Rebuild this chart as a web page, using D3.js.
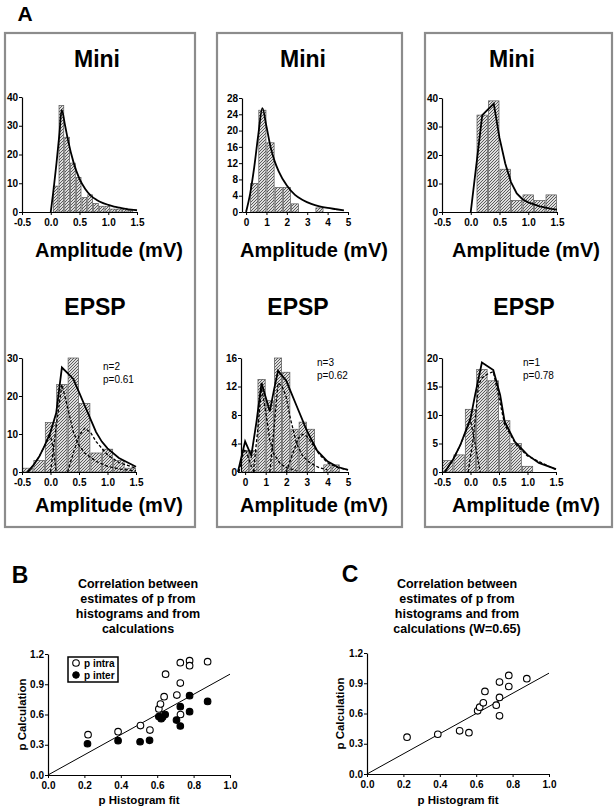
<!DOCTYPE html>
<html><head><meta charset="utf-8">
<script src="https://cdn.jsdelivr.net/npm/d3@7"></script>
<style>body{margin:0;background:#fff}svg{display:block}</style>
</head><body>
<svg id="c" width="616" height="810"></svg>
<script>
// ---------- Panel A data ----------
const ampTicksA = [-0.5, 0, 0.5, 1, 1.5];
const ampTicksB = [0, 1, 2, 3, 4, 5];

// Mini 1
const mini1Centers = [0.085, 0.185, 0.285, 0.385, 0.485, 0.585, 0.685, 0.785, 0.885, 0.985, 1.085, 1.185, 1.285, 1.385];
const mini1Counts  = [9, 37, 26, 17, 12, 5, 6, 3, 2, 2, 1, 1, 1.3, 0.5];
const mini1FitX = [0, 0.05, 0.1, 0.15, 0.19, 0.25, 0.3, 0.4, 0.5, 0.6, 0.7, 0.8, 0.9, 1.0, 1.1, 1.2, 1.3, 1.4, 1.5];
const mini1FitY = [0, 8, 17, 27, 35.5, 30, 25, 17, 11.5, 8, 5.6, 4.2, 3.2, 2.5, 1.9, 1.5, 1.1, 0.8, 0.6];
const mini1YTicks = [0, 10, 20, 30, 40];

// Mini 2
const mini2Centers = [0.4, 0.8, 1.2, 1.6, 2.0, 2.4, 2.8, 3.2, 3.6];
const mini2Counts  = [7, 25, 17, 6, 6, 2, 0, 0, 1];
const mini2FitX = [0, 0.2, 0.4, 0.6, 0.8, 1.0, 1.2, 1.4, 1.6, 2.0, 2.4, 2.8, 3.2, 3.6, 4.0, 4.4, 4.8];
const mini2FitY = [0, 4.5, 11, 19, 25.5, 21, 16, 12.5, 10, 6.5, 4.2, 2.9, 2.0, 1.4, 1.0, 0.7, 0.4];
const mini2YTicks = [0, 4, 8, 12, 16, 20, 24, 28];

// Mini 3
const mini3Centers = [0.2, 0.4, 0.6, 0.8, 1.0, 1.2, 1.4];
const mini3Counts  = [34, 39, 15, 4, 6, 4, 6];
const mini3FitX = [0, 0.2, 0.4, 0.5, 0.6, 0.7, 0.8, 0.9, 1.0, 1.2, 1.4, 1.5];
const mini3FitY = [0, 34, 38, 26, 17, 10.5, 6.5, 4.5, 3.4, 2.0, 1.1, 0.8];
const mini3YTicks = [0, 10, 20, 30, 40];

// EPSP 1 (n=2, p=0.61)
const epsp1Centers = [-0.4, -0.2, 0, 0.2, 0.4, 0.6, 0.8, 1.0, 1.2, 1.4];
const epsp1Counts  = [1, 3, 13, 23, 30, 18, 5, 6, 3, 1];
const epsp1FitX = [-0.4, -0.3, -0.2, -0.1, 0.0, 0.1, 0.2, 0.3, 0.4, 0.5, 0.6, 0.7, 0.8, 0.9, 1.0, 1.2, 1.5];
const epsp1FitY = [0, 1.8, 4, 7, 10.5, 15.5, 27.5, 26, 24.5, 21, 17.5, 14, 10.5, 8, 6.2, 3.7, 1.4];
const epsp1C0X = [-0.4, -0.3, -0.2, -0.1, -0.05, 0.0, 0.05, 0.1];
const epsp1C0Y = [0, 1.8, 4, 7, 8.5, 9.5, 6, 0];
const epsp1C1X = [0.0, 0.1, 0.2, 0.3, 0.4, 0.5, 0.6, 0.8, 1.0, 1.2, 1.5];
const epsp1C1Y = [0, 12, 23, 17, 10.5, 7, 5, 2.8, 1.5, 0.8, 0.3];
const epsp1C2X = [0.3, 0.4, 0.5, 0.6, 0.7, 0.8, 1.0, 1.2, 1.5];
const epsp1C2Y = [0, 5, 9.5, 11.5, 10.5, 8, 4.5, 2.5, 1];
const epsp1YTicks = [0, 10, 20, 30];

// EPSP 2 (n=3, p=0.62)
const epsp2Centers = [0, 0.4, 0.8, 1.2, 1.6, 2.0, 2.4, 2.8, 3.2, 3.6, 4.0, 4.4];
const epsp2Counts  = [3, 3, 13, 10, 16, 14, 6, 7, 6, 0, 1, 1];
const epsp2FitX = [-0.35, 0, 0.3, 0.55, 0.8, 1.0, 1.2, 1.4, 1.6, 2.0, 2.5, 3.0, 3.5, 4.0, 4.5, 5.0];
const epsp2FitY = [0, 4.3, 2.3, 7, 12.5, 10.5, 8.5, 11.5, 14.2, 12.8, 9.3, 5.8, 3.0, 1.5, 0.7, 0.3];
const epsp2C0X = [-0.3, -0.1, 0, 0.1, 0.3, 0.5];
const epsp2C0Y = [0, 2.5, 3.2, 2.5, 0.8, 0];
const epsp2C1X = [0.4, 0.6, 0.8, 1.0, 1.2, 1.4, 1.7, 2.0, 2.5];
const epsp2C1Y = [0, 5.5, 11.8, 8.5, 4.5, 2.5, 1.2, 0.6, 0.2];
const epsp2C2X = [1.2, 1.4, 1.6, 1.8, 2.0, 2.2, 2.5, 2.8, 3.2, 3.6, 4.0];
const epsp2C2Y = [0, 6, 12.5, 12, 10.5, 7.5, 4, 2.2, 1.2, 0.6, 0.3];
const epsp2C3X = [2.0, 2.3, 2.6, 2.8, 3.0, 3.3, 3.6, 4.0, 4.5, 5.0];
const epsp2C3Y = [0, 2.5, 4.8, 5.3, 5.0, 3.8, 2.5, 1.3, 0.6, 0.3];
const epsp2YTicks = [0, 4, 8, 12, 16];

// EPSP 3 (n=1, p=0.78)
const epsp3Centers = [-0.4, -0.2, 0, 0.2, 0.4, 0.6, 0.8, 1.0];
const epsp3Counts  = [2, 3, 11, 18, 16, 9, 5, 1];
const epsp3FitX = [-0.45, -0.3, -0.18, 0.0, 0.08, 0.2, 0.4, 0.52, 0.6, 0.78, 1.0, 1.2, 1.5];
const epsp3FitY = [0, 2.3, 4.7, 9.4, 13.5, 19.2, 17.9, 13.5, 8.8, 5.3, 3.0, 1.6, 0.5];
const epsp3C0X = [-0.45, -0.3, -0.18, 0.0, 0.08, 0.17];
const epsp3C0Y = [0, 2.3, 4.7, 9.1, 5, 0];
const epsp3C1X = [-0.04, 0.05, 0.1, 0.14, 0.2, 0.3, 0.4, 0.5, 0.6, 0.8, 1.0, 1.5];
const epsp3C1Y = [0, 6, 11, 15.3, 16.5, 17.2, 17.6, 13, 8.3, 4.8, 2.8, 0.4];
const epsp3YTicks = [0, 5, 10, 15, 20];

// ---------- Panel B / C data ----------
const bIntraX = [0.22, 0.385, 0.508, 0.56, 0.609, 0.618, 0.638, 0.646, 0.708, 0.727, 0.727, 0.728, 0.778, 0.778, 0.877];
const bIntraY = [0.40, 0.43, 0.49, 0.446, 0.655, 0.704, 0.777, 1.0, 0.793, 0.912, 1.114, 0.60, 1.134, 1.084, 1.124];
const bInterX = [0.217, 0.385, 0.506, 0.558, 0.609, 0.622, 0.644, 0.706, 0.727, 0.727, 0.778, 0.778, 0.877, 0.63];
const bInterY = [0.31, 0.34, 0.33, 0.344, 0.579, 0.559, 0.60, 0.545, 0.678, 0.486, 0.787, 0.628, 0.73, 0.575];
const cX = [0.22, 0.389, 0.509, 0.56, 0.608, 0.619, 0.639, 0.648, 0.71, 0.728, 0.728, 0.728, 0.779, 0.779, 0.878];
const cY = [0.365, 0.394, 0.428, 0.41, 0.627, 0.663, 0.706, 0.819, 0.683, 0.912, 0.759, 0.577, 0.978, 0.868, 0.945];
const pTicksX = [0, 0.2, 0.4, 0.6, 0.8, 1.0];
const pTicksY = [0, 0.3, 0.6, 0.9, 1.2];
const identityLine = [0, 1];

// ---------- drawing ----------
const FONT = "'Liberation Sans', Arial, Helvetica, sans-serif";
const svg = d3.select("#c");
const defs = svg.append("defs");
const pat = defs.append("pattern").attr("id", "hatch").attr("patternUnits", "userSpaceOnUse")
  .attr("width", 3).attr("height", 3);
pat.append("rect").attr("width", 3).attr("height", 3).attr("fill", "#dedede");
pat.append("path").attr("d", "M-0.75,0.75 l1.5,-1.5 M0,3 l3,-3 M2.25,3.75 l1.5,-1.5")
  .attr("stroke", "#444").attr("stroke-width", 0.85);

function txt(x, y, s, size, opts = {}) {
  return svg.append("text").attr("x", x).attr("y", y).text(s)
    .attr("font-family", FONT).attr("font-size", size)
    .attr("font-weight", opts.weight || "bold")
    .attr("text-anchor", opts.anchor || "middle").attr("fill", "#000");
}

function styleAxis(sel) {
  sel.selectAll("text").attr("font-family", FONT).attr("font-size", 10).attr("font-weight", "bold").attr("fill", "#000");
  sel.selectAll("line").attr("stroke", "#000").attr("stroke-width", 1);
  sel.select(".domain").attr("stroke", "#000").attr("stroke-width", 1.2);
}

function hist(cfg) {
  const x = d3.scaleLinear().domain(cfg.xDom).range(cfg.xRange);
  const y = d3.scaleLinear().domain(cfg.yDom).range(cfg.yRange);
  const g = svg.append("g");
  const bars = d3.zip(cfg.centers, cfg.counts).filter(d => d[1] > 0);
  g.selectAll("rect").data(bars).join("rect")
    .attr("x", d => x(d[0] - cfg.bw / 2) + 0.5)
    .attr("width", d => x(d[0] + cfg.bw / 2) - x(d[0] - cfg.bw / 2) - 1)
    .attr("y", d => y(d[1]))
    .attr("height", d => y(0) - y(d[1]))
    .attr("fill", "url(#hatch)").attr("stroke", "#555").attr("stroke-width", 0.7);
  const line = d3.line().x(d => x(d[0])).y(d => y(d[1])).curve(cfg.curve || d3.curveMonotoneX);
  (cfg.comps || []).forEach(c => {
    g.append("path").attr("d", line(d3.zip(c[0], c[1]))).attr("fill", "none")
      .attr("stroke", "#000").attr("stroke-width", 1.3).attr("stroke-dasharray", "3,2");
  });
  g.append("path").attr("d", line(d3.zip(cfg.fitX, cfg.fitY))).attr("fill", "none")
    .attr("stroke", "#000").attr("stroke-width", 1.8);
  const ya = g.append("g").attr("transform", `translate(${cfg.xRange[0]},0)`)
    .call(d3.axisLeft(y).tickValues(cfg.yTicks).tickSize(3).tickSizeOuter(0).tickPadding(1));
  styleAxis(ya);
  const xa = g.append("g").attr("transform", `translate(0,${y(0)})`)
    .call(d3.axisBottom(x).tickValues(cfg.xTicks).tickSize(3).tickSizeOuter(0).tickPadding(4)
      .tickFormat(cfg.xFmt));
  styleAxis(xa);
  if (cfg.note) {
    txt(cfg.noteX, cfg.noteY, cfg.note[0], 10, {weight: "normal", anchor: "start"});
    txt(cfg.noteX, cfg.noteY + 13, cfg.note[1], 10, {weight: "normal", anchor: "start"});
  }
}

// Boxes
[[5, 195], [217, 402], [425, 612]].forEach(b => {
  svg.append("rect").attr("x", b[0]).attr("y", 33).attr("width", b[1] - b[0]).attr("height", 494)
    .attr("fill", "none").attr("stroke", "#8c8c8c").attr("stroke-width", 2.2);
});

txt(25, 21, "A", 21, {});

// Titles
[97, 303, 512].forEach(cx => txt(cx, 67, "Mini", 23));
[109, 314, 526].forEach(cx => txt(cx, 257, "Amplitude (mV)", 20));
[95, 298, 524].forEach(cx => txt(cx, 315, "EPSP", 23));
[109, 314, 526].forEach(cx => txt(cx, 512, "Amplitude (mV)", 20));

const fmt1 = d => d.toFixed(1);
const fmt0 = d => d.toFixed(0);

hist({xDom: [-0.5, 1.5], xRange: [22, 137], yDom: [0, 40], yRange: [212, 97], bw: 0.1,
  centers: mini1Centers, counts: mini1Counts, fitX: mini1FitX, fitY: mini1FitY,
  yTicks: mini1YTicks, xTicks: ampTicksA, xFmt: fmt1});
hist({xDom: [-0.2, 5], xRange: [242, 348], yDom: [0, 28], yRange: [212, 98], bw: 0.4,
  centers: mini2Centers, counts: mini2Counts, fitX: mini2FitX, fitY: mini2FitY,
  yTicks: mini2YTicks, xTicks: ampTicksB, xFmt: fmt0});
hist({xDom: [-0.5, 1.5], xRange: [442, 557], yDom: [0, 40], yRange: [212, 98], bw: 0.2,
  centers: mini3Centers, counts: mini3Counts, fitX: mini3FitX, fitY: mini3FitY,
  yTicks: mini3YTicks, xTicks: ampTicksA, xFmt: fmt1, curve: d3.curveLinear});

hist({xDom: [-0.5, 1.5], xRange: [22, 136], yDom: [0, 30], yRange: [472, 358], bw: 0.2,
  centers: epsp1Centers, counts: epsp1Counts, fitX: epsp1FitX, fitY: epsp1FitY,
  comps: [[epsp1C0X, epsp1C0Y], [epsp1C1X, epsp1C1Y], [epsp1C2X, epsp1C2Y]],
  yTicks: epsp1YTicks, xTicks: ampTicksA, xFmt: fmt1, curve: d3.curveLinear,
  note: ["n=2", "p=0.61"], noteX: 103, noteY: 370});
hist({xDom: [-0.2, 5], xRange: [241, 348], yDom: [0, 16], yRange: [472, 358], bw: 0.4,
  centers: epsp2Centers, counts: epsp2Counts, fitX: epsp2FitX, fitY: epsp2FitY,
  comps: [[epsp2C0X, epsp2C0Y], [epsp2C1X, epsp2C1Y], [epsp2C2X, epsp2C2Y], [epsp2C3X, epsp2C3Y]],
  yTicks: epsp2YTicks, xTicks: ampTicksB, xFmt: fmt0, curve: d3.curveLinear,
  note: ["n=3", "p=0.62"], noteX: 317, noteY: 366});
hist({xDom: [-0.5, 1.5], xRange: [442, 556], yDom: [0, 20], yRange: [472, 358], bw: 0.2,
  centers: epsp3Centers, counts: epsp3Counts, fitX: epsp3FitX, fitY: epsp3FitY,
  comps: [[epsp3C0X, epsp3C0Y], [epsp3C1X, epsp3C1Y]],
  yTicks: epsp3YTicks, xTicks: ampTicksA, xFmt: fmt1, curve: d3.curveLinear,
  note: ["n=1", "p=0.78"], noteX: 523, noteY: 366});

// ---------- scatter panels ----------
function scatter(cfg) {
  const x = d3.scaleLinear().domain([0, 1]).range(cfg.xRange);
  const y = d3.scaleLinear().domain([0, 1.2]).range(cfg.yRange);
  const g = svg.append("g");
  g.append("line").attr("x1", x(identityLine[0])).attr("y1", y(identityLine[0]))
    .attr("x2", x(identityLine[1])).attr("y2", y(identityLine[1]))
    .attr("stroke", "#000").attr("stroke-width", 1);
  const ya = g.append("g").attr("transform", `translate(${cfg.xRange[0]},0)`)
    .call(d3.axisLeft(y).tickValues(pTicksY).tickSize(3).tickSizeOuter(0).tickPadding(1).tickFormat(fmt1));
  styleAxis(ya);
  const xa = g.append("g").attr("transform", `translate(0,${cfg.yRange[0]})`)
    .call(d3.axisBottom(x).tickValues(pTicksX).tickSize(3).tickSizeOuter(0).tickPadding(4).tickFormat(fmt1));
  styleAxis(xa);
  cfg.series.forEach(s => {
    g.selectAll(null).data(d3.zip(s.x, s.y)).join("circle")
      .attr("cx", d => x(d[0])).attr("cy", d => y(d[1])).attr("r", 3.3)
      .attr("fill", s.fill).attr("stroke", "#000").attr("stroke-width", 1.1);
  });
  const mx = (cfg.xRange[0] + cfg.xRange[1]) / 2;
  cfg.title.forEach((t, i) => txt(cfg.titleX, 588 + i * 15, t, 12.5));
  txt(mx, 804, "p Histogram fit", 11.5);
  svg.append("text").attr("transform", `translate(${cfg.yLabelX},${(cfg.yRange[0] + cfg.yRange[1]) / 2}) rotate(-90)`)
    .text("p Calculation").attr("font-family", FONT).attr("font-size", 11.5).attr("font-weight", "bold")
    .attr("text-anchor", "middle").attr("dy", "0.35em");
}

txt(20, 583, "B", 23);
scatter({xRange: [48, 230], yRange: [775, 654], titleX: 138, yLabelX: 22,
  title: ["Correlation between", "estimates of p from", "histograms and from", "calculations"],
  series: [{x: bIntraX, y: bIntraY, fill: "#fff"}, {x: bInterX, y: bInterY, fill: "#000"}]});

// legend B
svg.append("rect").attr("x", 68).attr("y", 657).attr("width", 50).attr("height", 25)
  .attr("fill", "#fff").attr("stroke", "#000").attr("stroke-width", 1.5);
svg.append("circle").attr("cx", 76).attr("cy", 663).attr("r", 3.3).attr("fill", "#fff").attr("stroke", "#000").attr("stroke-width", 1.1);
svg.append("circle").attr("cx", 76).attr("cy", 675).attr("r", 3.3).attr("fill", "#000").attr("stroke", "#000");
txt(84, 666.5, "p intra", 10, {anchor: "start"});
txt(84, 678.5, "p inter", 10, {anchor: "start"});

txt(350, 582, "C", 23);
scatter({xRange: [367, 549], yRange: [774, 653], titleX: 457, yLabelX: 340,
  title: ["Correlation between", "estimates of p from", "histograms and from", "calculations (W=0.65)"],
  series: [{x: cX, y: cY, fill: "#fff"}]});
</script>
</body></html>
